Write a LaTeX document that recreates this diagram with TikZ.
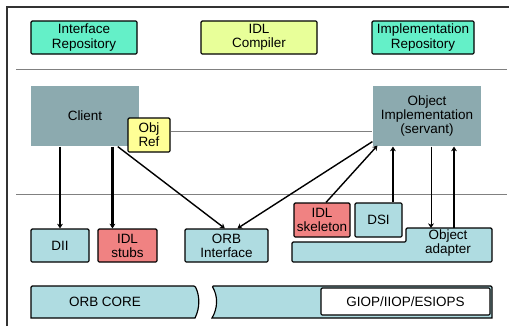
\documentclass[tikz,border=0pt]{standalone}
\usepackage{fontspec}
\setmainfont{Liberation Sans}
\usepackage{tikz}
\usetikzlibrary{arrows.meta,calc,positioning}
\definecolor{aqua}{RGB}{100,240,200}
\definecolor{lime}{RGB}{232,255,153}
\definecolor{slate}{RGB}{140,170,175}
\definecolor{note}{RGB}{255,255,150}
\definecolor{lblue}{RGB}{175,220,225}
\definecolor{salmon}{RGB}{240,130,130}

\begin{document}
\begin{tikzpicture}[x=0.03cm, y=-0.03cm, >={Stealth[length=4pt,width=5pt]},
    font=\fontsize{11.5}{12}\selectfont]
   \useasboundingbox (0,0) rectangle (509,326);
   % frame and separators
   \draw[black!80, line width=1.2pt] (7,326) -- (7,7) -- (509,7);
   \draw[gray, thin] (16,69) -- (507,69);
   \draw[gray, thin] (16,194) -- (507,194);

   % object adapter and ORB core
   \draw[line width=1pt, fill=lblue, rounded corners=1pt] (292,262) -- (292,242) -- (406,242) -- (406,228) -- (492,228) -- (492,262) -- cycle;
   \draw[line width=1pt, fill=lblue] (195,286) .. controls (200,296) and (200,308) .. (195,318) -- (31,318) [rounded corners=1pt] -- (31,286) -- cycle;
   \draw[line width=1pt, fill=lblue] (212,286) .. controls (218,296) and (218,308) .. (212,318) -- (492,318) [rounded corners=1pt] -- (492,286) -- cycle;

   \begin{scope}[every node/.style={draw=black, line width=1pt, rounded corners=1pt, align=center, inner sep=0pt}]
    \node (irep) [fill=aqua, minimum width=3.18cm, minimum height=0.99cm] at (84,37.5) {Interface\\Repository};
    \node (idlc) [fill=lime, minimum width=3.48cm, minimum height=0.99cm] at (259,37.5) {IDL\\Compiler};
    \node (imprep) [fill=aqua, minimum width=3.06cm, minimum height=0.99cm] at (423,37.5) {Implementation\\Repository};
    \node (client) [draw=none, fill=slate, rounded corners=0pt, minimum width=3.24cm, minimum height=1.8cm] at (85,116) {Client};
    \node (objref) [fill=note, minimum width=1.26cm, minimum height=1.02cm] at (149,135) {Obj\\Ref};
    \node (servant) [draw=none, fill=slate, rounded corners=0pt, minimum width=3.24cm, minimum height=1.8cm] at (427,116) {Object\\Implementation\\(servant)};
    \node (dii) [fill=lblue, minimum width=1.74cm, minimum height=0.99cm] at (60,245.5) {DII};
    \node (stubs) [fill=salmon, minimum width=1.77cm, minimum height=0.99cm] at (127.5,245.5) {IDL\\stubs};
    \node (orbif) [fill=lblue, minimum width=2.49cm, minimum height=0.99cm] at (226.5,245.5) {ORB\\Interface};
    \node (skel) [fill=salmon, minimum width=1.68cm, minimum height=1.02cm] at (322,220) {IDL\\skeleton};
    \node (dsi) [fill=lblue, minimum width=1.41cm, minimum height=1.02cm] at (378.5,220) {DSI};
    \node (giop) [fill=white, minimum width=5.07cm, minimum height=0.81cm] at (405.5,301.5) {GIOP/IIOP/ESIOPS};
   \end{scope}
   \node (adapter) [align=center, inner sep=0pt] at (448,243) {Object\\adapter};
   \node (core) at (105,302) {ORB CORE};

   % connector ends
   \coordinate (s1) at ($(stubs.north west)!.25!(stubs.north east)$);
   \coordinate (c1) at ($(client.south west)!.8!(client.south east)$);
   \coordinate (o1) at ($(orbif.north west)!.48!(orbif.north east)$);
   \coordinate (o2) at ($(orbif.north west)!.63!(orbif.north east)$);
   \coordinate (v1) at ([yshift=0.15cm]servant.south west);
   \coordinate (v2) at ([xshift=0.15cm,yshift=0.03cm]servant.south west);
   \coordinate (k1) at ($(skel.north west)!.57!(skel.north east)$);
   \coordinate (d1) at ($(dsi.north west)!.8!(dsi.north east)$);
   \coordinate (a1) at (431,228);
   \coordinate (a2) at (454,228);

   \draw[gray, thin] ([yshift=0.12cm]objref.east) -- ([yshift=0.12cm]objref.east -| servant.west);
   \draw[->, line width=2pt] (client.south -| dii.north) -- (dii.north);
   \draw[->, line width=2pt] (s1 |- client.south) -- (s1);
   \draw[->, line width=1.2pt] (c1) -- (o1);
   \draw[->, line width=1.2pt] (v1) -- (o2);
   \draw[->, line width=1.2pt] (k1) -- (v2);
   \draw[->, line width=2pt] (d1) -- (d1 |- servant.south);
   \draw[->, thin] (a1 |- servant.south) -- (a1);
   \draw[->, line width=2pt] (a2) -- (a2 |- servant.south);
\end{tikzpicture}
\end{document}
